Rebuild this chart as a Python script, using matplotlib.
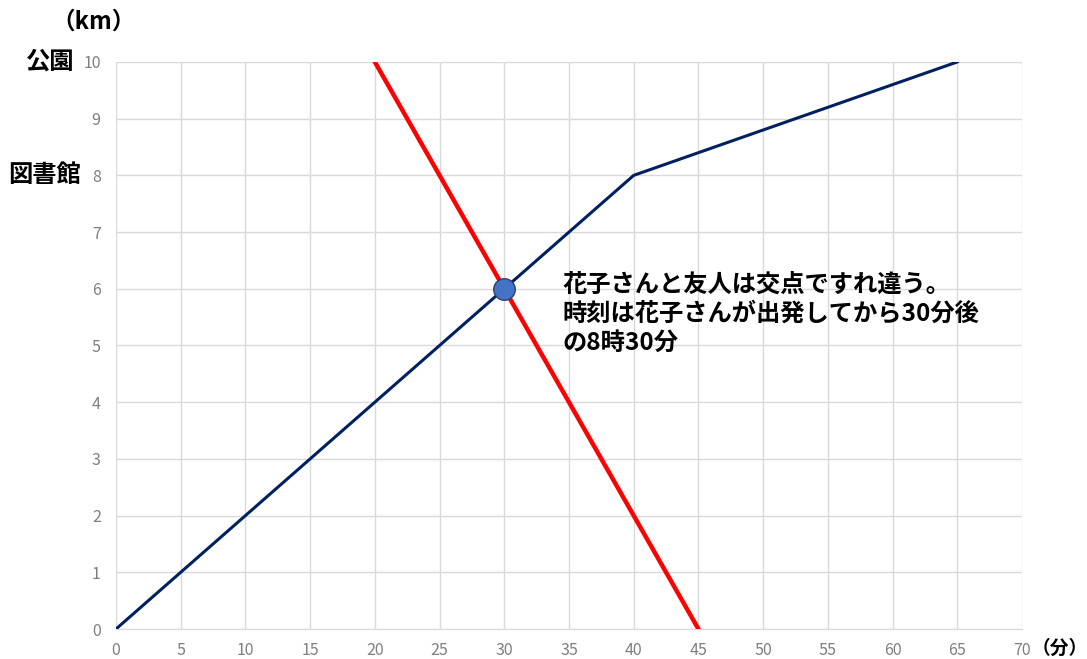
import matplotlib.pyplot as plt

plt.rcParams['font.family'] = ['Noto Sans CJK JP', 'DejaVu Sans']

# 花子さん (blue) and 友人 (red)
hanako_x = [0, 40, 65]
hanako_y = [0, 8, 10]
friend_x = [20, 45]
friend_y = [10, 0]
cross_x, cross_y = 30, 6
xticks = list(range(0, 75, 5))
yticks = list(range(0, 11))
note = "花子さんと友人は交点ですれ違う。\n時刻は花子さんが出発してから30分後\nの8時30分"

fig = plt.figure(figsize=(10.87, 6.59), dpi=100)
ax = fig.add_axes([0.1067, 0.0455, 0.8335, 0.8605])

ax.plot(hanako_x, hanako_y, color='#002060', lw=2.2, zorder=3)
ax.plot(friend_x, friend_y, color='#ff0000', lw=3.2, zorder=3)
ax.plot(cross_x, cross_y, 'o', ms=15.5, mfc='#4472c4', mec='#2f3f6f', mew=1, zorder=4)

ax.set_xlim(0, 70)
ax.set_ylim(0, 10)
ax.set_xticks(xticks)
ax.set_yticks(yticks)
ax.grid(True, color='#d9d9d9', lw=1)
ax.set_axisbelow(True)
for s in ax.spines.values():
    s.set_visible(False)
ax.spines['bottom'].set_visible(True)
ax.spines['bottom'].set_color('#d9d9d9')
ax.tick_params(length=0, labelsize=11.5, labelcolor='#7f7f7f')
ax.tick_params(axis='y', pad=11)
ax.tick_params(axis='x', pad=9)

ax.text(34.5, 5.56, note, fontsize=17.5, fontweight='bold', va='center', ha='left',
        linespacing=1.25)

fig.text(94 / 1087, 1 - 22 / 659, '（km）', fontsize=17, fontweight='bold', ha='center', va='center')
fig.text(50 / 1087, 1 - 62 / 659, '公園', fontsize=17.5, fontweight='bold', ha='center', va='center')
fig.text(45 / 1087, 1 - 175 / 659, '図書館', fontsize=17.5, fontweight='bold', ha='center', va='center')
fig.text(1032 / 1087, 1 - 648 / 659, '（分）', fontsize=13.5, fontweight='bold', ha='left', va='center')

fig.savefig('out.png', dpi=100)
